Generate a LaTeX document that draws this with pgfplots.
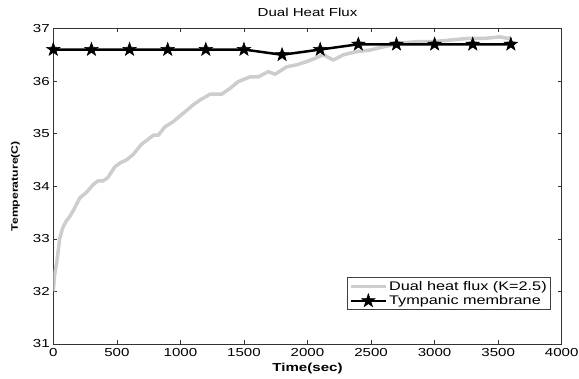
\documentclass[border=0pt]{standalone}
\usepackage{pgfplots}
\pgfplotsset{compat=1.18}
\usepackage{fontspec}
\setmainfont{Liberation Sans}[FakeStretch=1.3]
\definecolor{lgray}{RGB}{205,205,205}
\pgfdeclareplotmark{fstar}{%
  \pgfpathmoveto{\pgfpointpolar{90}{\pgfplotmarksize}}%
  \pgfpathlineto{\pgfpointpolar{126}{0.4\pgfplotmarksize}}%
  \pgfpathlineto{\pgfpointpolar{162}{\pgfplotmarksize}}%
  \pgfpathlineto{\pgfpointpolar{198}{0.4\pgfplotmarksize}}%
  \pgfpathlineto{\pgfpointpolar{234}{\pgfplotmarksize}}%
  \pgfpathlineto{\pgfpointpolar{270}{0.4\pgfplotmarksize}}%
  \pgfpathlineto{\pgfpointpolar{306}{\pgfplotmarksize}}%
  \pgfpathlineto{\pgfpointpolar{342}{0.4\pgfplotmarksize}}%
  \pgfpathlineto{\pgfpointpolar{18}{\pgfplotmarksize}}%
  \pgfpathlineto{\pgfpointpolar{54}{0.4\pgfplotmarksize}}%
  \pgfpathclose
  \pgfusepathqfillstroke
}
\begin{document}
\begin{tikzpicture}
\begin{axis}[
  at={(0,0)}, anchor=south west,
  scale only axis, width=508.4pt, height=315.5pt,
  xmin=0, xmax=4000, ymin=31, ymax=37,
  xtick={0,500,...,4000}, ytick={31,32,...,37},
  tick align=inside, tick pos=both,
  major tick length=4pt,
  axis line style={black!80, line width=0.6pt},
  tick style={black!80, line width=0.5pt},
  /pgf/number format/assume math mode=true,
  /pgf/number format/1000 sep={},
  ticklabel style={font=\fontsize{11.6}{13}\selectfont},
  xticklabel style={yshift=-1pt},
  title={Dual Heat Flux},
  title style={font=\fontsize{11.6}{13}\selectfont, at={(axis description cs:0.5,1)}, anchor=center, yshift=10pt},
  xlabel={Time(sec)},
  xlabel style={font=\fontsize{11.6}{13}\selectfont\bfseries, at={(axis description cs:0.5,-0.077)}, anchor=center},
  ylabel={Temperature(C)},
  ylabel style={font=\fontsize{9.4}{11}\selectfont\bfseries, at={(axis description cs:-0.0745,0.5)}, anchor=center},
  legend style={at={(axis description cs:0.978,0.108)}, anchor=south east,
    draw=black!75, line width=0.6pt, inner xsep=2pt, inner ysep=2pt,
    font=\fontsize{12.5}{14}\selectfont, row sep=0.5pt,
    nodes={inner sep=1.5pt}},
  legend cell align=left,
  legend image code/.code={\draw[mark repeat=2, mark phase=2, #1] plot coordinates {(0pt,0pt) (17.5pt,0pt) (35pt,0pt)};},
]
\addplot[lgray, line width=3.5pt, line join=round] coordinates {
(0,32.0) (10,32.3) (30,32.6) (50,33.0) (74,33.21) (100,33.33) (131,33.43)
(160,33.55) (209,33.78) (260,33.88) (314,34.03) (350,34.1) (392,34.1)
(431,34.17) (484,34.37) (530,34.45) (576,34.5) (627,34.6) (695,34.8)
(750,34.9) (787,34.97) (826,34.97) (879,35.13) (944,35.23) (1023,35.39)
(1102,35.55) (1154,35.64) (1233,35.75) (1325,35.75) (1390,35.86)
(1456,35.99) (1548,36.08) (1613,36.08) (1692,36.18) (1745,36.13)
(1836,36.27) (1915,36.31) (1994,36.37) (2046,36.42) (2125,36.5)
(2203,36.4) (2282,36.5) (2387,36.56) (2492,36.59) (2597,36.65)
(2728,36.72) (2860,36.75) (2990,36.75) (3122,36.78) (3253,36.81)
(3384,36.81) (3515,36.84) (3580,36.81) (3600,36.83)
};
\addlegendentry{Dual heat flux (K=2.5)}
\addplot[black, line width=2.5pt, mark=fstar, mark size=7pt, mark options={solid, line width=0.6pt, fill=black}] coordinates {
(0,36.6) (300,36.6) (600,36.6) (900,36.6) (1200,36.6) (1500,36.6)
(1800,36.5) (2100,36.6) (2400,36.7) (2700,36.7) (3000,36.7) (3300,36.7) (3600,36.7)
};
\addlegendentry{Tympanic membrane}
\end{axis}
\pgfresetboundingbox
\path[use as bounding box] (-53.3pt,-35pt) rectangle (525.7pt,344pt);
\end{tikzpicture}
\end{document}
